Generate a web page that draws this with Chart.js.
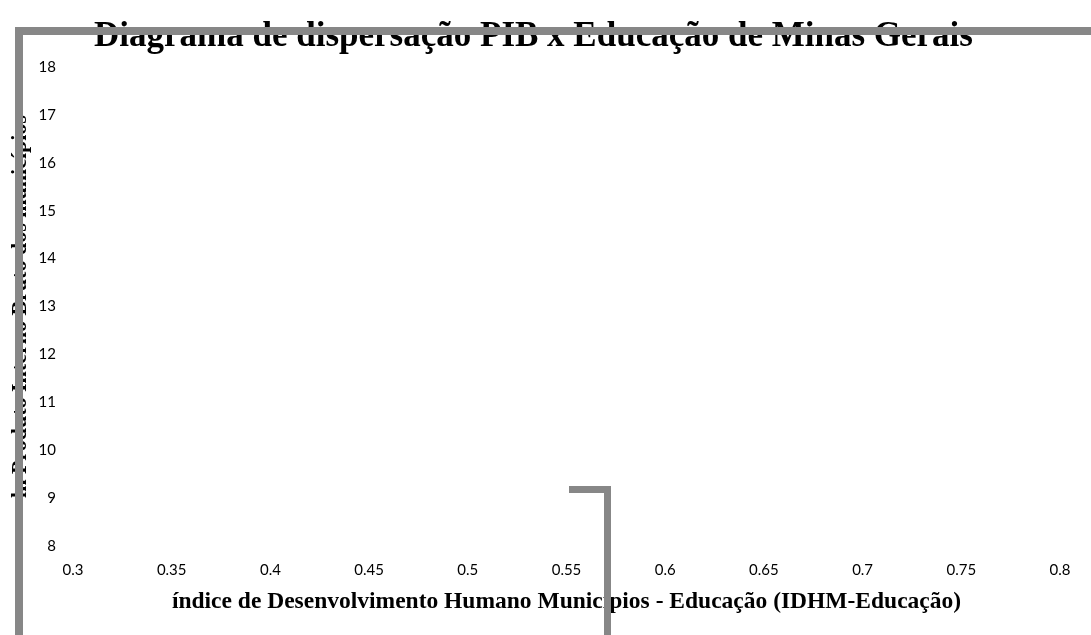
<!DOCTYPE html>
<html>
<head>
<meta charset="utf-8">
<script src="https://cdn.jsdelivr.net/npm/chart.js@4"></script>
<style>
    html, body { margin: 0; padding: 0; background: #fff; }
    #wrap { position: relative; width: 1091px; height: 635px; overflow: hidden; }
    .bar { position: absolute; background: #878787; }
</style>
</head>
<body>
<div id="wrap">
    <canvas id="scatterChart" width="1091" height="635"></canvas>
    <!-- frame pieces that sit over the chart -->
    <div class="bar" style="left:15px; top:27px; width:1076px; height:8px;"></div>
    <div class="bar" style="left:15px; top:27px; width:8px; height:608px;"></div>
    <div class="bar" style="left:569px; top:486px; width:42px; height:7px;"></div>
    <div class="bar" style="left:604px; top:486px; width:7px; height:149px;"></div>
</div>
<script>
// scatter data (no point is visible in the picture)
const idhmEducacao = [];
const lnPib = [];

// axis ranges
const xRange = [0.3, 0.8];
const xStep = 0.05;
const yRange = [8, 18];
const yStep = 1;

const chartTitle = 'Diagrama de dispersação PIB x Educação de Minas Gerais';
const xTitle = 'índice de Desenvolvimento Humano Municípios - Educação (IDHM-Educação)';
const yTitle = 'ln Produto Interno Bruto dos municípios';

const points = idhmEducacao.map((x, i) => ({ x: x, y: lnPib[i] }));

const tickFont = { family: 'Lato, "Open Sans", sans-serif', size: 15 };
const serifBold = 'Liberation Serif, "Times New Roman", serif';

const ctx = document.getElementById('scatterChart').getContext('2d');
new Chart(ctx, {
    type: 'scatter',
    data: {
        datasets: [{
            label: 'PIB x IDHM-Educação',
            data: points,
            backgroundColor: '#4f81bd',
            borderColor: '#4f81bd',
            pointRadius: 3
        }]
    },
    options: {
        responsive: false,
        animation: false,
        layout: { padding: { left: 7, right: 31, top: 0, bottom: 0 } },
        plugins: {
            legend: { display: false },
            tooltip: { enabled: false },
            title: {
                display: true,
                text: chartTitle,
                color: '#000',
                font: { family: serifBold, size: 35, weight: 'bold', lineHeight: 1.2 },
                padding: { top: 16, bottom: 9 }
            }
        },
        scales: {
            x: {
                type: 'linear',
                min: xRange[0],
                max: xRange[1],
                grid: { display: false },
                border: { display: false },
                ticks: {
                    stepSize: xStep,
                    color: '#000',
                    font: tickFont,
                    padding: 7,
                    maxRotation: 0,
                    callback: v => String(Math.round(v * 100) / 100)
                },
                title: {
                    display: true,
                    text: xTitle,
                    color: '#000',
                    font: { family: serifBold, size: 23.5, weight: 'bold' },
                    padding: { top: 0, bottom: 19 }
                },
                afterFit: s => { s.height = 89; }
            },
            y: {
                type: 'linear',
                min: yRange[0],
                max: yRange[1],
                grid: { display: false },
                border: { display: false },
                ticks: {
                    stepSize: yStep,
                    color: '#000',
                    font: tickFont,
                    padding: 9
                },
                title: {
                    display: true,
                    text: yTitle,
                    color: '#000',
                    font: { family: serifBold, size: 22, weight: 'bold' },
                    padding: 0
                },
                afterFit: s => { s.width = 66; }
            }
        }
    }
});
</script>
</body>
</html>
